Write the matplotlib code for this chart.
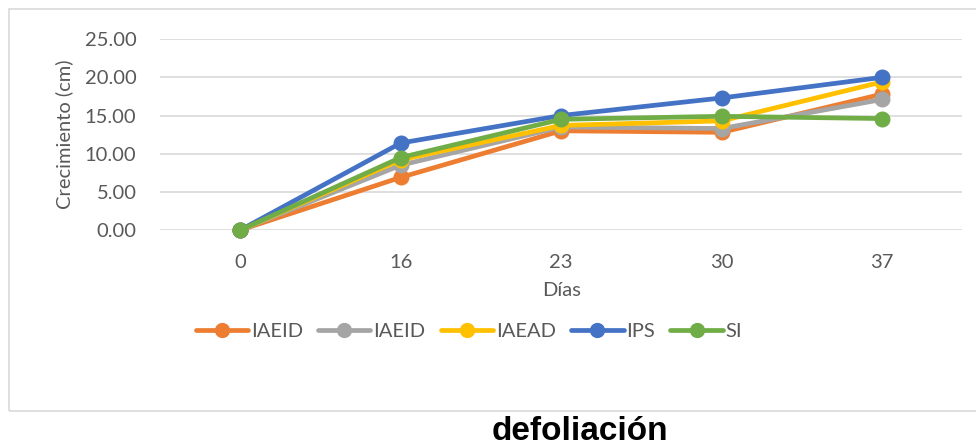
import matplotlib.pyplot as plt
from matplotlib.patches import Rectangle

# Data
dias = ["0", "16", "23", "30", "37"]
iaeid_1 = [0.0, 6.9, 13.0, 12.8, 17.8]
iaeid_2 = [0.0, 8.5, 13.5, 13.3, 17.1]
iaead = [0.0, 9.2, 13.7, 14.3, 19.4]
ips = [0.0, 11.4, 15.0, 17.3, 20.0]
si = [0.0, 9.5, 14.5, 14.9, 14.6]

series = [
    ("IAEID", iaeid_1, "#ED7D31"),
    ("IAEID", iaeid_2, "#A5A5A5"),
    ("IAEAD", iaead, "#FFC000"),
    ("IPS", ips, "#4472C4"),
    ("SI", si, "#70AD47"),
]

plt.rcParams['font.family'] = ['Lato', 'DejaVu Sans']
fs = 14.5

fig = plt.figure(figsize=(9.76, 4.45), dpi=100)
ax = fig.add_axes([0.164, 0.483, 0.822, 0.429])

# chart border
fig.patches.append(Rectangle((9 / 976, 1 - 411 / 445), 1.0, 402 / 445,
                             transform=fig.transFigure, fill=False,
                             edgecolor="#D9D9D9", linewidth=1.2))

x = range(len(dias))
for name, vals, color in series:
    ax.plot(x, vals, color=color, linewidth=3.4, marker="o",
            markersize=10.5, label=name, clip_on=False, zorder=3,
            solid_capstyle="round")

ax.set_xlim(-0.5, len(dias) - 0.5)
ax.set_ylim(0, 25)
ax.set_yticks([0, 5, 10, 15, 20, 25])
ax.set_yticklabels([f"{v:.2f}" for v in [0, 5, 10, 15, 20, 25]])
ax.set_xticks(list(x))
ax.set_xticklabels(dias)
ax.grid(axis="y", color="#D9D9D9", linewidth=1.2)
ax.set_axisbelow(True)
for s in ax.spines.values():
    s.set_visible(False)
ax.tick_params(length=0, labelsize=fs, colors="#595959")
ax.tick_params(axis="x", pad=17)
ax.tick_params(axis="y", pad=17)

ax.set_xlabel("Días", fontsize=fs, color="#595959", labelpad=8)
ax.set_ylabel("Crecimiento (cm)", fontsize=fs, color="#595959", labelpad=8)

fig.legend(*ax.get_legend_handles_labels(), loc="center",
           bbox_to_anchor=(469 / 976, 1 - 331 / 445), ncol=5,
           frameon=False, fontsize=fs, labelcolor="#595959",
           handlelength=2.6, handletextpad=0.15, columnspacing=0.75,
           markerscale=0.95)

fig.text(580 / 976, 1 - 431 / 445, "defoliación", ha="center", va="center",
         fontsize=24, fontweight="bold", family="Liberation Sans")

fig.savefig("out.png", dpi=100)
